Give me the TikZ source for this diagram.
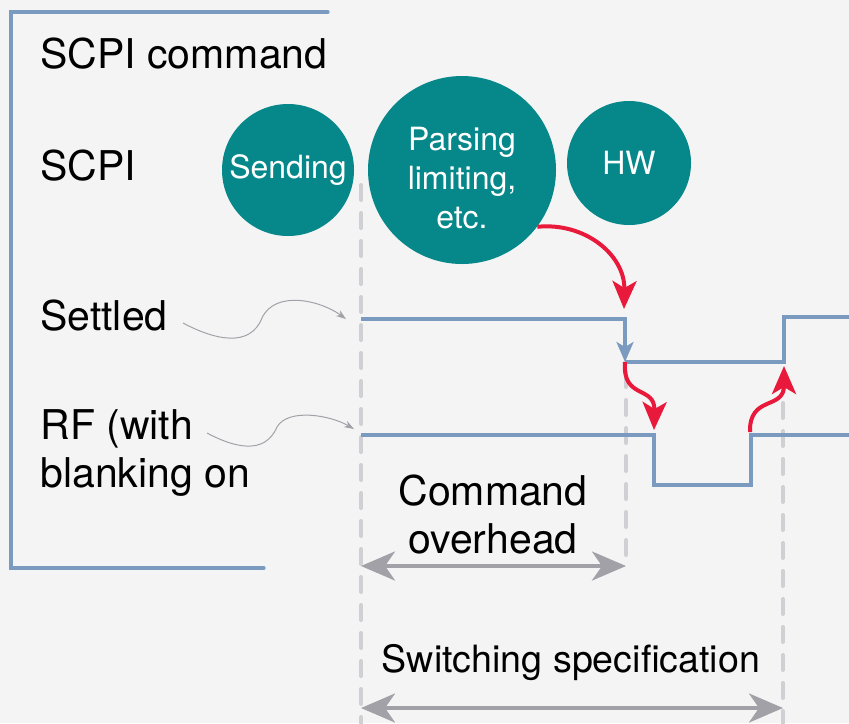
\documentclass[tikz,border=0pt]{standalone}
\usepackage{fontspec}
\setmainfont{TeX Gyre Heros}
\usepackage{tikz}
\usetikzlibrary{arrows.meta, positioning}
\definecolor{paper}{HTML}{F4F4F4}
\definecolor{steelblue}{HTML}{7A9BBF}
\definecolor{tealdot}{HTML}{06878A}
\definecolor{hotred}{HTML}{E8193B}
\definecolor{dashgrey}{HTML}{CFCFD4}
\definecolor{spangrey}{HTML}{A3A1A8}

\begin{document}
\begin{tikzpicture}[x=0.5pt, y=-0.5pt,
	lbl/.style={anchor=base west, inner sep=0pt, font=\fontsize{20.5}{24}\selectfont},
	blob/.style={circle, fill=tealdot, text=white, inner sep=0pt, align=center, font=\fontsize{16}{19.5}\selectfont},
	sig/.style={steelblue, line width=1.6pt},
	guide/.style={dashgrey, line width=2pt, line cap=round, dash pattern=on 7.5pt off 6.5pt},
	jump/.style={hotred, line width=2pt, -{Stealth[length=14pt, width=12pt, inset=3.5pt]}},
	span/.style={spangrey, line width=2pt, {Stealth[length=17pt, width=14.5pt, inset=5pt]}-{Stealth[length=17pt, width=14.5pt, inset=5pt]}},
	hint/.style={spangrey, line width=0.5pt, -{Stealth[length=5pt, width=3.5pt]}}]

	\fill[paper] (0,0) rectangle (849,723);
	\useasboundingbox (0,0) rectangle (849,723);

	% frame
	\draw[sig, line cap=round] (328,12) -- (11,12) -- (11,568) -- (264,568);

	% time marks
	\coordinate (ga) at (361,185);  \coordinate (gb) at (361,723);
	\coordinate (gc) at (626,372);  \coordinate (gd) at (626,565);
	\coordinate (ge) at (783,375);  \coordinate (gf) at (783,723);
	\draw[guide] (ga) -- (gb);
	\draw[guide] (gc) -- (gd);
	\draw[guide] (ge) -- (gf);

	\node[lbl] (cmd) at (40,68) {SCPI command};
	\node[lbl] (scpi) at (40,180) {SCPI};
	\node[lbl] (settled) at (40,330) {Settled};
	\node[lbl] (rf) at (40,439) {RF (with};
	\node[lbl] (blank) at (40,487) {blanking on};

	\node[blob, minimum size=66pt] (send) at (288,170) {Sending};
	\node[blob, minimum size=94pt] (parse) at (462,170) {};
	\node[blob, fill=none] (parsetxt) at (462,178) {Parsing\\limiting,\\etc.};
	\node[blob, minimum size=62pt] (hw) at (629,163) {HW};

	% settled line
	\coordinate (s0) at (361,319);
	\coordinate (s1) at (625,319);
	\coordinate (s2) at (625,362);
	\coordinate (s3) at (784,362);
	\coordinate (s4) at (784,317);
	\coordinate (s5) at (849,317);
	\draw[sig, -{Stealth[length=10pt, width=8.5pt, inset=2.5pt]}] (s0) -- (s1) -- (s2);
	\draw[sig] (s2) -- (s3) -- (s4) -- (s5);

	% rf line
	\coordinate (r0) at (361,435);
	\coordinate (r1) at (654,435);
	\coordinate (r2) at (654,485);
	\coordinate (r3) at (751,485);
	\coordinate (r4) at (751,435);
	\coordinate (r5) at (849,435);
	\draw[sig] (r0) -- (r1) -- (r2) -- (r3) -- (r4) -- (r5);

	% causes
	\coordinate (t1) at (624,309);
	\coordinate (t2) at (654,430);
	\coordinate (t3) at (750,432);
	\coordinate (t4) at (784,366);
	\draw[jump] (parse.-37) .. controls (585,222) and (625,255) .. (t1);
	\draw[jump] (s2) .. controls (622,400) and (655,385) .. (t2);
	\draw[jump] (t3) .. controls (749,395) and (784,410) .. (t4);

	% pointers from the labels
	\coordinate (h1) at (183,323);
	\coordinate (h2) at (346,319);
	\coordinate (h3) at (207,433);
	\coordinate (h4) at (354,429);
	\draw[hint] (h1) .. controls (215,340) and (250,348) .. (262,318) .. controls (275,290) and (320,300) .. (h2);
	\draw[hint] (h3) .. controls (235,448) and (265,455) .. (277,427) .. controls (288,408) and (330,415) .. (h4);

	% durations
	\coordinate (d0) at (361,566);  \coordinate (d1) at (626,566);
	\coordinate (d2) at (361,708);  \coordinate (d3) at (783,708);
	\draw[span] (d0) -- (d1);
	\draw[span] (d2) -- (d3);
	\node[lbl, anchor=base] (co1) at (493,505) {Command};
	\node[lbl, anchor=base] (co2) at (493,553) {overhead};
	\node[lbl, anchor=base, font=\fontsize{18.8}{22}\selectfont] (sw) at (571,672) {Switching specification};
\end{tikzpicture}
\end{document}
